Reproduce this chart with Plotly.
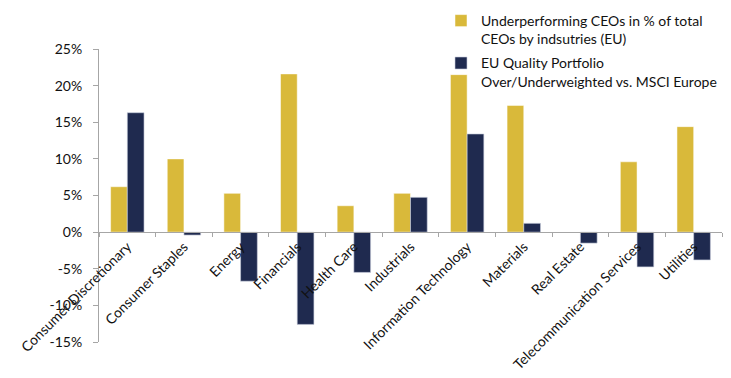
import plotly.graph_objects as go

categories = ["Consumer Discretionary", "Consumer Staples", "Energy", "Financials",
              "Health Care", "Industrials", "Information Technology", "Materials",
              "Real Estate", "Telecommunication Services", "Utilities"]
ceo_underperf = [6.2, 10.0, 5.3, 21.6, 3.6, 5.3, 21.5, 17.3, 0.0, 9.6, 14.4]
portfolio_weight = [16.3, -0.4, -6.7, -12.6, -5.5, 4.75, 13.4, 1.2, -1.5, -4.75, -3.8]
series_names = ["Underperforming CEOs in % of total<br>CEOs by indsutries (EU)",
                "EU Quality Portfolio<br>Over/Underweighted vs. MSCI Europe"]
y_tickvals = [-15, -10, -5, 0, 5, 10, 15, 20, 25]
y_ticktext = ["-15%", "-10%", "-5%", "0%", "5%", "10%", "15%", "20%", "25%"]

FONT = "Lato, Carlito, Calibri, sans-serif"
YELLOW = "#D9B93A"
NAVY = "#1F2A4F"

fig = go.Figure()
fig.add_trace(go.Bar(x=categories, y=ceo_underperf, name=series_names[0],
                     marker=dict(color=YELLOW, line=dict(color="rgba(255,255,255,0.5)", width=1)),
                     legendgroup="a"))
fig.add_trace(go.Bar(x=categories, y=portfolio_weight, name=series_names[1],
                     marker=dict(color=NAVY, line=dict(color="rgba(200,205,220,0.6)", width=1)),
                     legendgroup="b"))

fig.update_layout(
    width=731, height=378,
    margin=dict(l=99, r=9, t=49, b=36, autoexpand=False),
    paper_bgcolor="white", plot_bgcolor="white",
    barmode="group", bargap=0.41, bargroupgap=0,
    font=dict(family=FONT, size=14, color="#111111"),
    showlegend=True,
    legend=dict(xref="container", yref="container", x=441/731, y=1 - 5/378,
                xanchor="left", yanchor="top", valign="top",
                font=dict(family=FONT, size=14, color="#111111"),
                bgcolor="rgba(0,0,0,0)", borderwidth=0, itemwidth=30,
                tracegroupgap=3, traceorder="grouped"),
    xaxis=dict(type="category", range=[-0.5, 10.5], anchor="free", position=0.375,
               showline=True, linecolor="#A6A6A6", linewidth=1,
               ticks="outside", ticklen=4, tickcolor="#A6A6A6", tickson="boundaries",
               tickangle=-45, showgrid=False, zeroline=False, automargin=False,
               tickfont=dict(family=FONT, size=14, color="#111111")),
    yaxis=dict(range=[-15, 25], tickvals=y_tickvals, ticktext=y_ticktext,
               showline=True, linecolor="#A6A6A6", linewidth=1,
               ticks="outside", ticklen=5, tickcolor="#A6A6A6",
               showgrid=False, zeroline=False, automargin=False,
               ticklabelstandoff=8,
               tickfont=dict(family=FONT, size=14, color="#111111")),
)

fig.write_html("out.html")
